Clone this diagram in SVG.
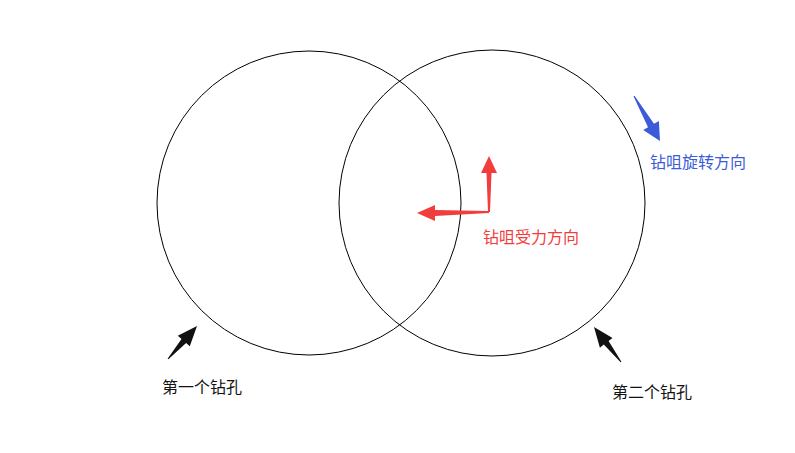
<svg xmlns="http://www.w3.org/2000/svg" width="795" height="453" viewBox="0 0 795 453">
<style>
.hole{fill:none;stroke:#000;stroke-width:1}
.t{font-family:"Noto Sans CJK SC","Microsoft YaHei",sans-serif;font-size:16px}
.blk{fill:#111}
.red{fill:#f23d3d}
.blue{fill:#3b5bd8}
</style>
<rect width="795" height="453" fill="#fff"/>
<g id="hole1">
<circle class="hole" cx="309" cy="203" r="152"/>
<text class="t blk" x="162" y="393">第一个钻孔</text>
</g>
<g id="hole2">
<circle class="hole" cx="492" cy="203" r="153"/>
<text class="t blk" x="612" y="398">第二个钻孔</text>
</g>
<g id="rotation">
<text class="t blue" x="650" y="168">钻咀旋转方向</text>
</g>
<g id="force">
<text class="t red" x="483" y="243">钻咀受力方向</text>
</g>
<g id="connectors">
<polygon class="blk" points="197,326 189.8,346.3 186.1,343 168.4,359.3 167.6,358.7 181.5,339 177.8,335.7"/>
<polygon class="blk" points="594,327 612.5,337.9 608.6,341 621.4,361.7 620.6,362.3 603.8,344.6 599.9,347.7"/>
<polygon class="blue" points="660,141 643.2,129.9 648,127.2 633.5,96.3 634.5,95.7 654,123.7 658.9,120.9"/>
<polygon class="red" points="489,156 497,173 491.5,173 490,212 488,212 486.5,173 481,173"/>
<polygon class="red" points="417,213 435,205 435,210 489,211 489,213 435,216 435,221"/>
</g>
</svg>
